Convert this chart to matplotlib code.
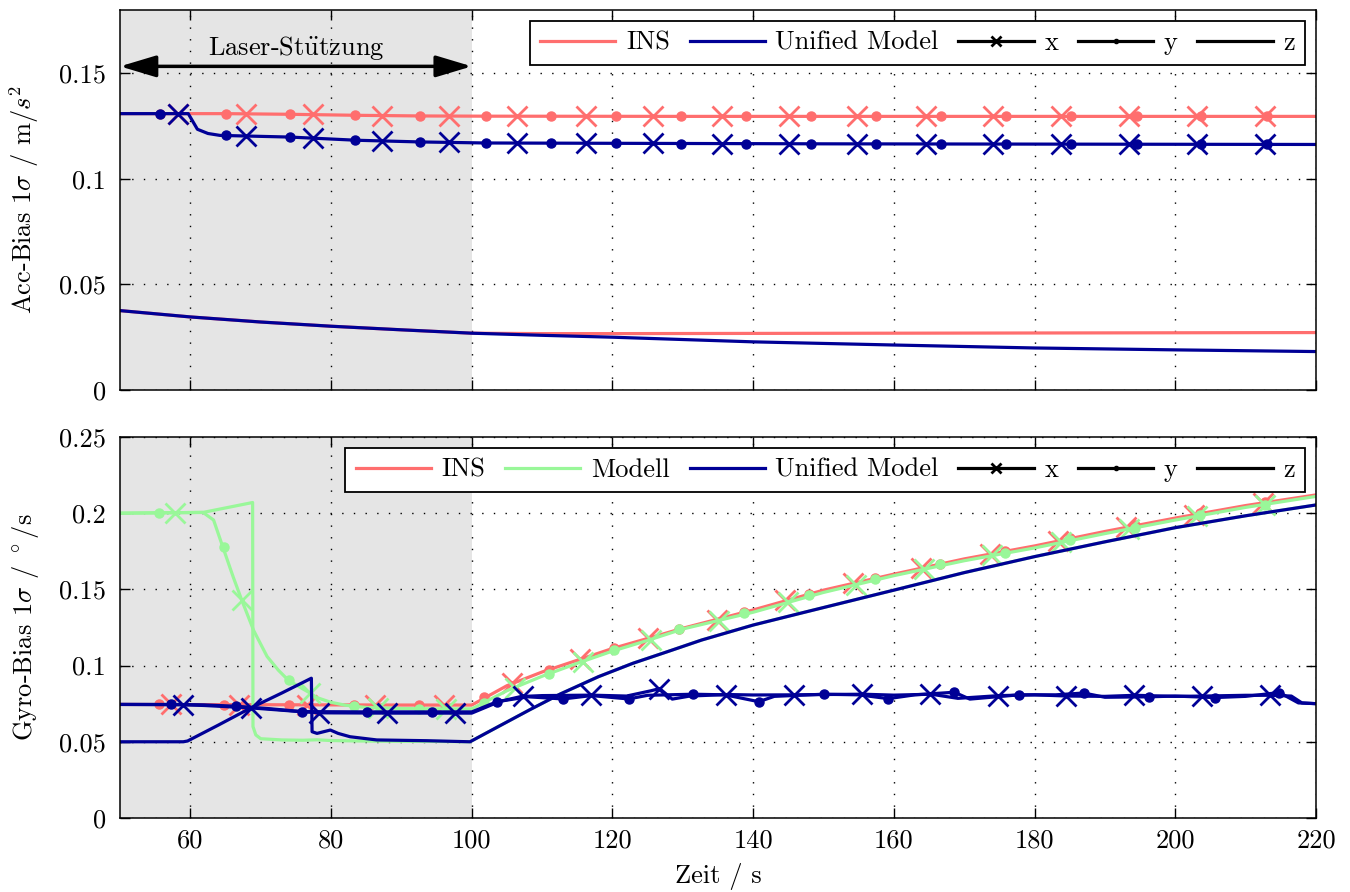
import numpy as np
import matplotlib
matplotlib.use('Agg')
import matplotlib.pyplot as plt
from matplotlib.lines import Line2D
from matplotlib.ticker import FuncFormatter

plt.rcParams['font.family'] = ['cmr10', 'DejaVu Serif']
plt.rcParams['mathtext.fontset'] = 'cm'
plt.rcParams['axes.unicode_minus'] = False
FS = 19
plt.rcParams['font.size'] = FS

c_ins = '#ff6e6e'
c_mod = '#99f799'
c_um = '#000096'

# ---------------- Acc-Bias (oben) ----------------
acc_t_ins_xy = [50, 60, 65, 74, 84, 93, 102, 130, 220]
acc_ins_xy = [0.1309, 0.1309, 0.1309, 0.1306, 0.1301, 0.1298, 0.1297, 0.1296, 0.1296]
acc_t_um_xy = [50, 59.7, 61, 62.5, 64.2, 74.2, 83.6, 92.6, 102, 150, 220]
acc_um_xy = [0.1309, 0.1309, 0.1235, 0.1215, 0.1206, 0.1198, 0.1183, 0.1175, 0.1170, 0.1166, 0.1163]

acc_t_z = [50, 60, 70, 80, 90, 100, 110, 120, 140, 160, 180, 200, 220]
acc_ins_z = [0.0376, 0.0346, 0.0322, 0.0302, 0.0285, 0.0269, 0.0267, 0.0267, 0.0268, 0.0269, 0.0270, 0.0271, 0.0272]
acc_um_z = [0.0376, 0.0346, 0.0322, 0.0302, 0.0285, 0.0269, 0.0259, 0.0250, 0.0228, 0.0213, 0.0199, 0.0190, 0.0182]

# Marker (x = Kreuz, y = Punkt)
acc_xm_t = [58.2, 67.9, 77.5, 87.2, 96.8, 106.5, 116.2, 125.8, 135.5, 145.1, 154.8, 164.5, 174.1, 183.8, 193.4, 203.1, 212.8]
acc_ins_xm = [0.1309, 0.1308, 0.1305, 0.1300, 0.1298, 0.1297, 0.1297, 0.1296, 0.1296, 0.1296, 0.1296, 0.1296, 0.1296, 0.1296, 0.1296, 0.1296, 0.1296]
acc_um_xm = [0.1309, 0.1202, 0.1193, 0.1180, 0.1173, 0.1170, 0.1169, 0.1168, 0.1167, 0.1167, 0.1166, 0.1166, 0.1165, 0.1165, 0.1164, 0.1164, 0.1163]
acc_ym_t = [55.7, 65.0, 74.2, 83.4, 92.7, 102.0, 111.2, 120.5, 129.7, 139.0, 148.2, 157.5, 166.7, 176.0, 185.2, 194.5, 203.7, 213.0]
acc_ins_ym = [0.1309, 0.1309, 0.1306, 0.1301, 0.1298, 0.1297, 0.1297, 0.1296, 0.1296, 0.1296, 0.1296, 0.1296, 0.1296, 0.1296, 0.1296, 0.1296, 0.1296, 0.1296]
acc_um_ym = [0.1309, 0.1206, 0.1198, 0.1183, 0.1175, 0.1170, 0.1169, 0.1168, 0.1167, 0.1167, 0.1166, 0.1166, 0.1165, 0.1165, 0.1164, 0.1164, 0.1163, 0.1163]

# ---------------- Gyro-Bias (unten) ----------------
gyr_t_ins = [50, 60, 70, 80, 90, 100, 105, 110, 115, 120, 125, 130, 140, 150, 160, 170, 180, 190, 200, 210, 220]
gyr_ins_xy = [0.0745, 0.0744, 0.0743, 0.0742, 0.0741, 0.0741, 0.0868, 0.0958, 0.1035, 0.1112, 0.1178, 0.1245, 0.1365, 0.1495, 0.1600, 0.1700, 0.1785, 0.1880, 0.1968, 0.2050, 0.2120]
gyr_ins_xm_t = [57.2, 66.9, 76.6, 86.3, 96.0, 105.7, 115.4, 125.1, 134.8, 144.5, 154.2, 163.9, 173.6, 183.3, 193.0, 202.7, 212.4]
gyr_ins_xm = [0.0745, 0.0744, 0.0743, 0.0742, 0.0741, 0.0884, 0.1040, 0.1180, 0.1300, 0.1430, 0.1540, 0.1640, 0.1735, 0.1815, 0.1908, 0.1990, 0.2070]
gyr_ins_ym_t = [55.5, 64.75, 74.0, 83.25, 92.5, 101.75, 111.0, 120.25, 129.5, 138.75, 148.0, 157.25, 166.5, 175.75, 185.0, 194.25, 203.5, 212.75]
gyr_ins_ym = [0.0745, 0.0744, 0.0743, 0.0742, 0.0741, 0.0794, 0.0971, 0.1115, 0.1240, 0.1350, 0.1472, 0.1575, 0.1668, 0.1755, 0.1835, 0.1922, 0.2000, 0.2072]

gyr_t_mod_xy = [50, 61.8, 63.3, 64.6, 66.1, 67.3, 69.0, 70.9, 72.5, 73.9, 75.5, 77.0, 78.0, 79.9, 82.0, 85.0, 90, 95, 100,
                105, 110, 115, 120, 125, 130, 140, 150, 160, 170, 180, 190, 200, 210, 220]
gyr_mod_xy = [0.2000, 0.2005, 0.1955, 0.1780, 0.1580, 0.1430, 0.1230, 0.1060, 0.0970, 0.0905, 0.0860, 0.0820, 0.0790, 0.0760, 0.0740, 0.0725, 0.0718, 0.0716, 0.0716,
              0.0835, 0.0930, 0.1015, 0.1095, 0.1165, 0.1240, 0.1350, 0.1480, 0.1590, 0.1688, 0.1772, 0.1866, 0.1955, 0.2038, 0.2110]
gyr_mod_xm_t = [57.8, 67.3, 77.0, 86.7, 96.4, 106.1, 115.8, 125.5, 135.2, 144.9, 154.6, 164.3, 174.0, 183.7, 193.4, 203.1, 212.8]
gyr_mod_xm = [0.2000, 0.1430, 0.0820, 0.0723, 0.0716, 0.0855, 0.1025, 0.1170, 0.1295, 0.1415, 0.1530, 0.1635, 0.1725, 0.1808, 0.1895, 0.1980, 0.2055]
gyr_mod_ym = [0.2000, 0.1775, 0.0903, 0.0735, 0.0717, 0.0757, 0.0946, 0.1100, 0.1237, 0.1348, 0.1460, 0.1565, 0.1665, 0.1740, 0.1822, 0.1905, 0.1985, 0.2055]

gyr_t_mod_z = [50, 61.8, 68.85, 68.9, 69.3, 70.0, 73, 76, 78, 80, 84, 90, 95, 99.75,
               103.3, 108.2, 112.6, 118.0, 122.9, 127.8, 132.7, 140.0, 147.3, 160, 170, 180, 190, 200, 210, 220]
gyr_mod_z = [0.2000, 0.2005, 0.2070, 0.0600, 0.0545, 0.0520, 0.0512, 0.0510, 0.0513, 0.0508, 0.0505, 0.0503, 0.0502, 0.0500,
             0.0588, 0.0709, 0.0814, 0.0927, 0.1015, 0.1091, 0.1168, 0.1266, 0.1350, 0.1495, 0.1610, 0.1715, 0.1812, 0.1905, 0.1983, 0.2054]

gyr_t_um_x = [50, 59.0, 62, 68.7, 75, 78.4, 88.1, 97.6, 100, 104, 107.0, 110, 117.0, 122, 125.5, 126.7, 128.5, 131, 136.3, 140,
              146.0, 150, 155.7, 160, 165.3, 169.1, 175.0, 180, 184.7, 190, 194.3, 200, 204.0, 210, 213.7, 216.5, 218, 220]
gyr_um_x = [0.0745, 0.0743, 0.0738, 0.0722, 0.0700, 0.0690, 0.0688, 0.0688, 0.0688, 0.0765, 0.0797, 0.0803, 0.0806, 0.0800, 0.0835, 0.0849, 0.0780, 0.0800, 0.0810, 0.0807,
            0.0808, 0.0810, 0.0812, 0.0806, 0.0812, 0.0785, 0.0803, 0.0808, 0.0800, 0.0798, 0.0805, 0.0798, 0.0800, 0.0805, 0.0805, 0.0800, 0.0755, 0.0750]
gyr_um_xm_t = [59.0, 68.65, 78.3, 87.95, 97.6, 107.25, 116.9, 126.55, 136.2, 145.85, 155.5, 165.15, 174.8, 184.45, 194.1, 203.75, 213.4]
gyr_um_xm = [0.0743, 0.0722, 0.0690, 0.0688, 0.0688, 0.0798, 0.0806, 0.0848, 0.0810, 0.0808, 0.0812, 0.0812, 0.0803, 0.0800, 0.0805, 0.0800, 0.0805]

gyr_t_um_y = [50, 57.25, 62, 66.5, 71, 75.8, 85.1, 94.3, 100, 103.6, 108, 113.0, 117, 122.3, 125, 131.5, 136, 140.8, 143, 150.0,
              155, 159.2, 163, 168.6, 170.8, 177.8, 183, 187.0, 190, 196.3, 200, 205.6, 210, 214.8, 217.5, 220]
gyr_um_y = [0.0745, 0.0745, 0.0742, 0.0733, 0.0718, 0.0698, 0.0696, 0.0696, 0.0696, 0.0763, 0.0795, 0.0781, 0.0803, 0.0781, 0.0805, 0.0812, 0.0808, 0.0763, 0.0798, 0.0812,
            0.0808, 0.0783, 0.0808, 0.0825, 0.0780, 0.0808, 0.0808, 0.0820, 0.0792, 0.0795, 0.0800, 0.0790, 0.0798, 0.0823, 0.0755, 0.0750]
gyr_um_ym_t = [57.25, 66.5, 75.8, 85.1, 94.3, 103.6, 113.0, 122.3, 131.5, 140.8, 150.0, 159.2, 168.6, 177.8, 187.0, 196.3, 205.6, 214.8]
gyr_um_ym = [0.0745, 0.0733, 0.0698, 0.0696, 0.0696, 0.0763, 0.0781, 0.0781, 0.0812, 0.0763, 0.0812, 0.0783, 0.0825, 0.0808, 0.0820, 0.0795, 0.0790, 0.0823]

gyr_t_um_z = [50, 59.0, 59.6, 64, 68.5, 73, 77.2, 77.3, 78.0, 79.9, 81.0, 82.7, 86.5, 93.6, 99.75,
              103.3, 108.2, 112.6, 118.0, 122.9, 127.8, 132.7, 140.0, 147.3, 160, 170, 180, 190, 200, 210, 220]
gyr_um_z = [0.0500, 0.0500, 0.0505, 0.0610, 0.0720, 0.0820, 0.0917, 0.0566, 0.0555, 0.0577, 0.0555, 0.0533, 0.0512, 0.0507, 0.0500,
            0.0588, 0.0709, 0.0814, 0.0927, 0.1015, 0.1091, 0.1168, 0.1266, 0.1350, 0.1495, 0.1610, 0.1715, 0.1812, 0.1905, 0.1983, 0.2054]

laser_von, laser_bis = 50, 100

LW = 2.3
MS_X = 14
MS_D = 6.5


def curves(ax, col, t_xy, v_xy, xm_t, xm, ym_t, ym, t_z, v_z, t_y=None, v_y=None):
    ax.plot(t_z, v_z, color=col, lw=LW)
    ax.plot(t_xy, v_xy, color=col, lw=LW)
    if t_y is not None:
        ax.plot(t_y, v_y, color=col, lw=LW)
    ax.plot(xm_t, xm, ls='none', marker='x', ms=MS_X, mew=2, color=col)
    ax.plot(ym_t, ym, ls='none', marker='o', ms=MS_D, color=col)


def style(ax, ymax, yticks):
    ax.axvspan(laser_von, laser_bis, color='#e5e5e5', zorder=0, lw=0)
    ax.set_xlim(50, 220)
    ax.set_ylim(0, ymax)
    ax.set_xticks([60, 80, 100, 120, 140, 160, 180, 200, 220])
    ax.set_yticks(yticks)
    ax.yaxis.set_major_formatter(FuncFormatter(lambda v, p: '%g' % v))
    ax.grid(True, color='k', ls=(0, (1, 7.4)), lw=1.0)
    ax.tick_params(direction='in', top=True, right=True, length=7, width=1, labelsize=FS)
    ax.tick_params(axis='y', pad=10)
    ax.tick_params(axis='x', pad=8)
    for s in ax.spines.values():
        s.set_linewidth(1.1)


def handles(names, cols):
    h = [Line2D([], [], color=c, lw=LW) for c in cols]
    h.append(Line2D([], [], color='k', lw=LW, marker='x', ms=7, mew=2))
    h.append(Line2D([], [], color='k', lw=LW, marker='o', ms=3))
    h.append(Line2D([], [], color='k', lw=LW))
    return h, names + ['x', 'y', 'z']


def legende(ax, h, l):
    leg = ax.legend(h, l, loc='upper right', ncol=len(l), fancybox=False, framealpha=1, edgecolor='k',
                    handlelength=2.85, handletextpad=0.4, columnspacing=0.75, borderaxespad=0.4,
                    borderpad=0.4, fontsize=FS)
    leg.get_frame().set_linewidth(1.3)


fig = plt.figure(figsize=(13.5, 8.92), dpi=100)
ax1 = fig.add_axes([0.0889, 0.5628, 0.8859, 0.4260])
ax2 = fig.add_axes([0.0889, 0.0830, 0.8859, 0.4271])

# oben
curves(ax1, c_ins, acc_t_ins_xy, acc_ins_xy, acc_xm_t, acc_ins_xm, acc_ym_t, acc_ins_ym, acc_t_z, acc_ins_z)
curves(ax1, c_um, acc_t_um_xy, acc_um_xy, acc_xm_t, acc_um_xm, acc_ym_t, acc_um_ym, acc_t_z, acc_um_z)
style(ax1, 0.18, [0, 0.05, 0.1, 0.15])
ax1.set_xticklabels([])
ax1.set_ylabel(r'Acc-Bias $1\sigma$ / m/$s^2$', fontsize=FS)
ax1.yaxis.set_label_coords(-0.066, 0.5)
ax1.annotate('', xy=(laser_von, 0.1533), xytext=(laser_bis, 0.1533),
             arrowprops=dict(arrowstyle='<|-|>,head_length=1.0,head_width=0.3', mutation_scale=22,
                             color='k', lw=2.5, shrinkA=0, shrinkB=0))
ax1.text(75, 0.1618, r'Laser-St$\ddot{\mathrm{u}}$tzung', ha='center', va='center', fontsize=FS)
h, l = handles(['INS', 'Unified Model'], [c_ins, c_um])
legende(ax1, h, l)

# unten
curves(ax2, c_ins, gyr_t_ins, gyr_ins_xy, gyr_ins_xm_t, gyr_ins_xm, gyr_ins_ym_t, gyr_ins_ym, [], [])
ax2.plot(gyr_t_mod_z, gyr_mod_z, color=c_mod, lw=LW)
curves(ax2, c_mod, gyr_t_mod_xy, gyr_mod_xy, gyr_mod_xm_t, gyr_mod_xm, gyr_ins_ym_t, gyr_mod_ym, [], [])
curves(ax2, c_um, gyr_t_um_x, gyr_um_x, gyr_um_xm_t, gyr_um_xm, gyr_um_ym_t, gyr_um_ym, gyr_t_um_z, gyr_um_z,
       gyr_t_um_y, gyr_um_y)
style(ax2, 0.25, [0, 0.05, 0.1, 0.15, 0.2, 0.25])
ax2.set_ylabel(r'Gyro-Bias $1\sigma$ / $^\circ$/s', fontsize=FS)
ax2.yaxis.set_label_coords(-0.066, 0.5)
ax2.set_xlabel('Zeit / s', fontsize=FS)
ax2.xaxis.set_label_coords(0.5, -0.118)
h, l = handles(['INS', 'Modell', 'Unified Model'], [c_ins, c_mod, c_um])
legende(ax2, h, l)

fig.savefig('out.png', dpi=100)
